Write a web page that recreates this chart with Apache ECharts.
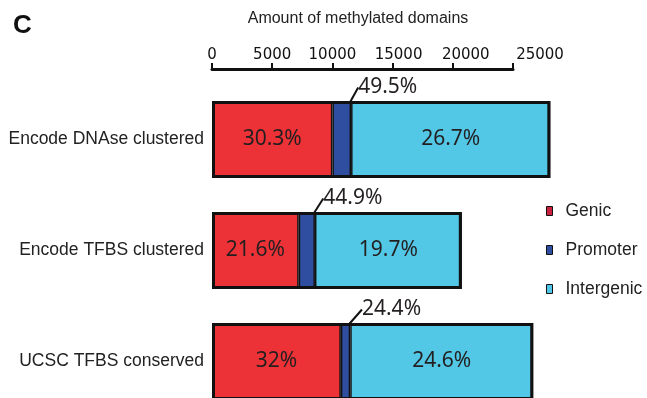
<!DOCTYPE html>
<html>
<head>
<meta charset="utf-8">
<script src="https://cdn.jsdelivr.net/npm/echarts@6/dist/echarts.min.js"></script>
<style>
	html, body { margin: 0; padding: 0; background: #fff; }
	#chart { width: 647px; height: 398px; }
</style>
</head>
<body>
<div id="chart"></div>
<script>
// data
var categories = ['Encode DNAse clustered', 'Encode TFBS clustered', 'UCSC TFBS conserved'];
var genic = [10000, 7200, 10700];
var promoter = [1550, 1350, 780];
var intergenic = [16550, 12200, 15200];
var genicPct = ['30.3%', '21.6%', '32%'];
var promoterPct = ['49.5%', '44.9%', '24.4%'];
var intergenicPct = ['26.7%', '19.7%', '24.6%'];
var xTicks = [0, 5000, 10000, 15000, 20000, 25000];

var totals = [];
for (var i = 0; i < categories.length; i++) {
	totals.push(genic[i] + promoter[i] + intergenic[i]);
}

var chart = echarts.init(document.getElementById('chart'));

// the printed tick labels drift right of their ticks
var labelShift = { 15000: 's1', 20000: 's2', 25000: 's3' };
var tickFont = { fontFamily: 'DejaVu Sans', fontSize: 15, color: '#111' };

function pctLabel(list) {
	return function (p) { return list[p.dataIndex]; };
}

var segBorder = { borderColor: '#111', borderWidth: 1.5 };
var insideLabel = {
	show: true,
	position: 'inside',
	fontFamily: 'Noto Sans',
	fontSize: 21,
	color: '#231f20'
};

var option = {
	animation: false,
	title: {
		text: 'C',
		left: 8,
		top: 8,
		textStyle: { fontFamily: 'Liberation Sans', fontWeight: 'bold', fontSize: 26, color: '#111' }
	},
	legend: {
		orient: 'vertical',
		left: 546,
		top: 202,
		padding: 0,
		itemWidth: 6,
		itemHeight: 9,
		itemGap: 21,
		selectedMode: false,
		textStyle: { fontFamily: 'Liberation Sans', fontSize: 17.5, color: '#222', padding: [0, 0, 0, 8] },
		data: [
			{ name: 'Genic', icon: 'rect', itemStyle: { color: '#c9213f', borderColor: '#111', borderWidth: 1 } },
			{ name: 'Promoter', icon: 'rect', itemStyle: { color: '#2f4da0', borderColor: '#111', borderWidth: 1 } },
			{ name: 'Intergenic', icon: 'rect', itemStyle: { color: '#4fc6e8', borderColor: '#111', borderWidth: 1 } }
		]
	},
	grid: { left: 212, right: 134, top: 84, height: 333, outerBoundsMode: 'none', containLabel: false },
	xAxis: {
		type: 'value',
		position: 'top',
		offset: 15,
		min: 0,
		max: 25000,
		interval: 5000,
		name: 'Amount of methylated domains',
		nameLocation: 'middle',
		nameGap: 42,
		nameTextStyle: { fontFamily: 'Liberation Sans', fontSize: 16, color: '#222', padding: [0, 9, 0, 0] },
		axisLine: { show: true, lineStyle: { color: '#111', width: 3 } },
		axisTick: { show: true, length: 6, lineStyle: { color: '#111', width: 2 } },
		splitLine: { show: false },
		axisLabel: {
			margin: 6,
			fontFamily: tickFont.fontFamily,
			fontSize: tickFont.fontSize,
			color: tickFont.color,
			formatter: function (v) {
				var k = labelShift[v];
				return k ? '{' + k + '|' + v + '}' : String(v);
			},
			rich: {
				s1: Object.assign({ padding: [0, 0, 0, 12] }, tickFont),
				s2: Object.assign({ padding: [0, 0, 0, 26] }, tickFont),
				s3: Object.assign({ padding: [0, 0, 0, 54] }, tickFont)
			}
		}
	},
	yAxis: {
		type: 'category',
		inverse: true,
		data: categories,
		axisLine: { show: false },
		axisTick: { show: false },
		axisLabel: { margin: 8, fontFamily: 'Liberation Sans', fontSize: 17.5, color: '#222' }
	},
	series: [{
		name: 'Genic',
		type: 'bar',
		stack: 'domains',
		barWidth: 77,
		barGap: '-100%',
		clip: false,
		data: genic,
		itemStyle: Object.assign({ color: '#ed3237' }, segBorder),
		label: Object.assign({ formatter: pctLabel(genicPct) }, insideLabel)
	}, {
		name: 'Promoter',
		type: 'bar',
		stack: 'domains',
		barWidth: 77,
		barGap: '-100%',
		clip: false,
		data: promoter,
		itemStyle: Object.assign({ color: '#2f4ea0' }, segBorder),
		label: {
			show: true,
			position: 'top',
			distance: 0,
			formatter: pctLabel(promoterPct),
			fontFamily: 'Noto Sans',
			fontSize: 21,
			color: '#231f20'
		},
		labelLayout: { dx: 46, dy: -3 },
		labelLine: { show: true, lineStyle: { color: '#111', width: 2 } }
	}, {
		name: 'Intergenic',
		type: 'bar',
		stack: 'domains',
		barWidth: 77,
		barGap: '-100%',
		clip: false,
		data: intergenic,
		itemStyle: Object.assign({ color: '#53c8e6' }, segBorder),
		label: Object.assign({ formatter: pctLabel(intergenicPct) }, insideLabel)
	}, {
		// outer frame round each whole bar
		name: 'total',
		type: 'bar',
		barWidth: 77,
		barGap: '-100%',
		clip: false,
		silent: true,
		z: 3,
		data: totals,
		itemStyle: { color: 'rgba(0,0,0,0)', borderColor: '#111', borderWidth: 3 }
	}]
};

chart.setOption(option);
</script>
</body>
</html>
